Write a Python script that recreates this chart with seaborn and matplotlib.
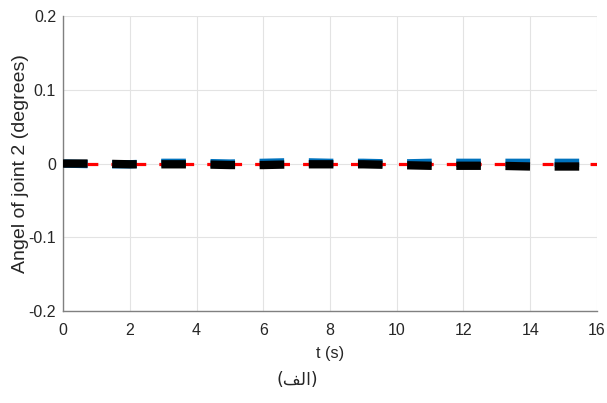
import numpy as np
import matplotlib
matplotlib.use("Agg")
import matplotlib.pyplot as plt
import seaborn as sns

t = [0, 1, 2, 3, 4, 5, 6, 7, 8, 9, 10, 11, 12, 13, 14, 15, 16]
blue_vals = [0.000, -0.001, -0.001, 0.001, 0.001, 0.000, 0.001, 0.002, 0.001, 0.001,
             0.000, 0.001, 0.001, 0.001, 0.001, 0.001, 0.001]
black_vals = [0.000, 0.000, -0.001, -0.001, -0.001, -0.002, -0.002, -0.001, -0.001, -0.001,
              -0.002, -0.003, -0.003, -0.003, -0.004, -0.004, -0.004]
red_vals = [0.0] * 17
xticks = [0, 2, 4, 6, 8, 10, 12, 14, 16]
yticks = [-0.2, -0.1, 0, 0.1, 0.2]
ytick_labels = ["-0.2", "-0.1", "0", "0.1", "0.2"]

sns.set_style("white")
plt.rcParams['font.family'] = ['Liberation Sans', 'DejaVu Sans']

fig = plt.figure(figsize=(6.07, 4.03), dpi=100)
ax = fig.add_axes([0.1038, 0.2283, 0.8797, 0.7317])

sns.lineplot(x=t, y=blue_vals, ax=ax, color=(0, 0.447, 0.741), linewidth=6.0, zorder=1)
sns.lineplot(x=t, y=red_vals, ax=ax, color=(1, 0, 0), linewidth=2.3, zorder=2)
sns.lineplot(x=t, y=black_vals, ax=ax, color="black", linewidth=6.0, zorder=3)
lines = ax.get_lines()
lines[0].set_dashes((2.95, 2.95))
lines[1].set_dashes((3.4, 4.1))
lines[2].set_dashes((2.95, 2.95))
for ln in lines:
    ln.set_solid_capstyle("butt")
    ln.set_dash_capstyle("butt")

ax.set_xlim(0, 16)
ax.set_ylim(-0.2, 0.2)
ax.set_xticks(xticks)
ax.set_xticklabels([str(v) for v in xticks])
ax.set_yticks(yticks)
ax.set_yticklabels(ytick_labels)
ax.grid(True, color="#e3e3e3", linewidth=0.8)
ax.set_axisbelow(True)
for s in ["top", "right"]:
    ax.spines[s].set_visible(False)
for s in ["left", "bottom"]:
    ax.spines[s].set_color("#808080")
    ax.spines[s].set_linewidth(1.0)
ax.tick_params(axis="both", labelsize=11.5, labelcolor="#262626", color="#808080",
               direction="in", length=3.6, width=0.8)
ax.tick_params(axis="x", pad=8.5)
ax.tick_params(axis="y", pad=5)
ax.set_xlabel("t (s)", fontsize=11.7, color="#262626", labelpad=6)
ax.set_ylabel("Angel of joint 2 (degrees)", fontsize=14, color="#262626", labelpad=-0.5)

# Arabic caption "(الف)" written in shaped presentation forms (visual order)
caption = "(\uFED2\uFEDF\uFE8D)"
fig.text(0.49, 0.058, caption, ha="center", va="center", fontsize=12.5,
         family=["DejaVu Sans"], color="#262626")

fig.savefig("out.png", dpi=100)
